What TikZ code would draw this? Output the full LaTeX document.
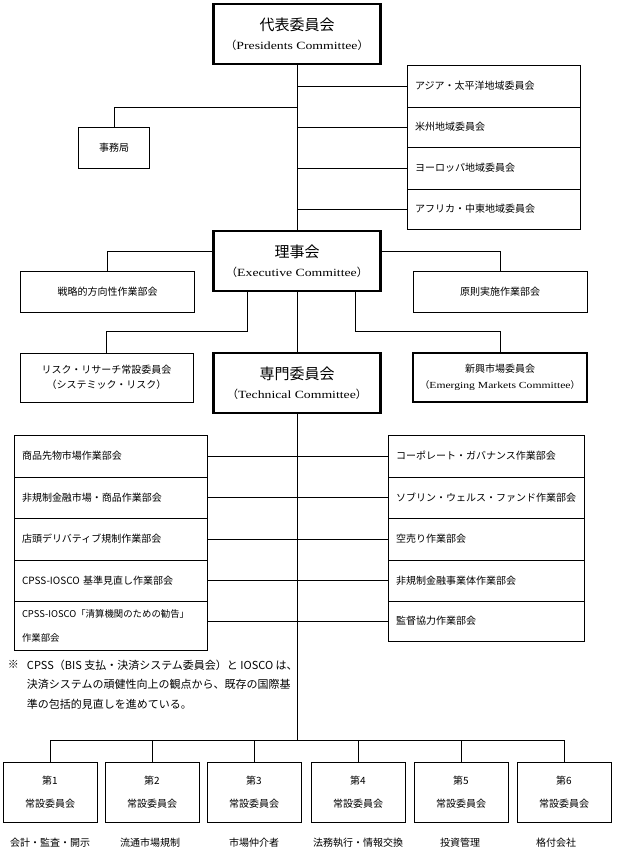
\documentclass[tikz,border=0pt]{standalone}
\usepackage{fontspec}
\setmainfont{Noto Sans CJK JP}
\newfontfamily\enfont[FakeStretch=1.25]{Liberation Serif}
\usetikzlibrary{calc}
\begin{document}
\begin{tikzpicture}[x=1pt,y=-1pt,
  every node/.style={inner sep=0pt, outer sep=0pt},
  conn/.style={line width=0.8pt},
  box/.style={draw, line width=0.8pt, align=center, font=\fontsize{10}{16}\selectfont},
  mainbox/.style={draw, line width=2.6pt, align=center, minimum width=167pt, minimum height=60pt, font=\fontsize{11}{19}\selectfont},
  rowbox/.style={draw, line width=0.8pt, align=left, inner xsep=8pt, anchor=north west, font=\fontsize{10}{14}\selectfont},
  lbl/.style={font=\fontsize{10}{12}\selectfont}]
\useasboundingbox (0,0) rectangle (616,854);

% --- Presidents Committee
\node[mainbox] (pres) at (297,34) {{\fontsize{15}{19}\selectfont 代表委員会}\\（{\enfont Presidents Committee}）};

% --- regional committees
\node[rowbox, text width=157pt, minimum height=42pt] (r1) at (407,65) {アジア・太平洋地域委員会};
\node[rowbox, text width=157pt, minimum height=40pt] (r2) at (407,107) {米州地域委員会};
\node[rowbox, text width=157pt, minimum height=42pt] (r3) at (407,147) {ヨーロッパ地域委員会};
\node[rowbox, text width=157pt, minimum height=40pt] (r4) at (407,189) {アフリカ・中東地域委員会};

% --- secretariat
\node[box, minimum width=71pt, minimum height=41pt] (jim) at (114,147.5) {事務局};
\coordinate (jimj) at (297,107);

% --- Executive Committee
\node[mainbox] (riji) at (297,261) {{\fontsize{15}{19}\selectfont 理事会}\\（{\enfont Executive Committee}）};
\node[box, minimum width=174pt, minimum height=41pt] (senr) at (107.5,291.5) {戦略的方向性作業部会};
\node[box, minimum width=174pt, minimum height=41pt] (gens) at (500,291.5) {原則実施作業部会};

% --- third row
\node[box, minimum width=173pt, minimum height=49pt, font=\fontsize{10}{15.5}\selectfont] (risk) at (106.5,377.5) {リスク・リサーチ常設委員会\\（システミック・リスク）};
\node[mainbox] (senm) at (297,383) {{\fontsize{15}{19}\selectfont 専門委員会}\\（{\enfont Technical Committee}）};
\node[draw, line width=2pt, align=center, minimum width=174pt, minimum height=49pt, font=\fontsize{10}{16}\selectfont] (shin) at (500,377.5) {新興市場委員会\\{\fontsize{9.3}{10}\selectfont（{\enfont Emerging Markets Committee}）}};

% --- left stack
\node[rowbox, text width=177pt, minimum height=42pt] (L1) at (14,435) {商品先物市場作業部会};
\node[rowbox, text width=177pt, minimum height=41pt] (L2) at (14,477) {非規制金融市場・商品作業部会};
\node[rowbox, text width=177pt, minimum height=42pt] (L3) at (14,518) {店頭デリバティブ規制作業部会};
\node[rowbox, text width=177pt, minimum height=41pt] (L4) at (14,560) {CPSS-IOSCO 基準見直し作業部会};
\node[rowbox, text width=177pt, minimum height=49pt, font=\fontsize{9.4}{24}\selectfont] (L5) at (14,601) {CPSS-IOSCO「清算機関のための勧告」\\作業部会};

% --- right stack
\node[rowbox, text width=180pt, minimum height=42pt] (R1) at (388,435) {コーポレート・ガバナンス作業部会};
\node[rowbox, text width=180pt, minimum height=41pt] (R2) at (388,477) {ソブリン・ウェルス・ファンド作業部会};
\node[rowbox, text width=180pt, minimum height=42pt] (R3) at (388,518) {空売り作業部会};
\node[rowbox, text width=180pt, minimum height=41pt] (R4) at (388,560) {非規制金融事業体作業部会};
\node[rowbox, text width=180pt, minimum height=40pt] (R5) at (388,601) {監督協力作業部会};

% --- note
\node[anchor=north west, font=\fontsize{11}{19.5}\selectfont] (kome) at (8,660) {※};
\node[anchor=north west, align=left, font=\fontsize{11}{19.5}\selectfont] (note) at (27,660) {CPSS（BIS 支払・決済システム委員会）と IOSCO は、\\決済システムの頑健性向上の観点から、既存の国際基\\準の包括的見直しを進めている。};

% --- standing committees
\coordinate (hub) at (297,740);
\node[box, minimum width=94pt, minimum height=60pt, font=\fontsize{10}{23}\selectfont] (b1) at (50,792) {第1\\常設委員会};
\node[box, minimum width=94pt, minimum height=60pt, font=\fontsize{10}{23}\selectfont] (b2) at (152,792) {第2\\常設委員会};
\node[box, minimum width=94pt, minimum height=60pt, font=\fontsize{10}{23}\selectfont] (b3) at (254,792) {第3\\常設委員会};
\node[box, minimum width=94pt, minimum height=60pt, font=\fontsize{10}{23}\selectfont] (b4) at (358,792) {第4\\常設委員会};
\node[box, minimum width=94pt, minimum height=60pt, font=\fontsize{10}{23}\selectfont] (b5) at (461,792) {第5\\常設委員会};
\node[box, minimum width=94pt, minimum height=60pt, font=\fontsize{10}{23}\selectfont] (b6) at (564,792) {第6\\常設委員会};
\node[lbl] (t1) at (50,843) {会計・監査・開示};
\node[lbl] (t2) at (150,843) {流通市場規制};
\node[lbl] (t3) at (254,843) {市場仲介者};
\node[lbl] (t4) at (358,843) {法務執行・情報交換};
\node[lbl] (t5) at (460,843) {投資管理};
\node[lbl] (t6) at (556,843) {格付会社};

% --- connectors
\draw[conn] (pres.south) -- (riji.north);
\foreach \i in {1,...,4} \draw[conn] (r\i.west -| pres.south) -- (r\i.west);
\draw[conn] (jimj) -| (jim.north);
\draw[conn] ([yshift=10pt]riji.west) -| (senr.north);
\draw[conn] ([yshift=10pt]riji.east) -| (gens.north);
\draw[conn] ([xshift=-50pt]riji.south) -- ++(0,-40pt) -| (risk.north);
\draw[conn] ([xshift=58pt]riji.south) -- ++(0,-40pt) -| (shin.north);
\draw[conn] (riji.south) -- (senm.north);
\draw[conn] (senm.south) -- (hub);
\foreach \i in {1,...,4} \draw[conn] (L\i.east) -- (R\i.west);
\draw[conn] (R5.west) -- (R5.west -| L5.east);
\foreach \i in {1,...,6} \draw[conn] (hub) -| (b\i.north);
\end{tikzpicture}
\end{document}
